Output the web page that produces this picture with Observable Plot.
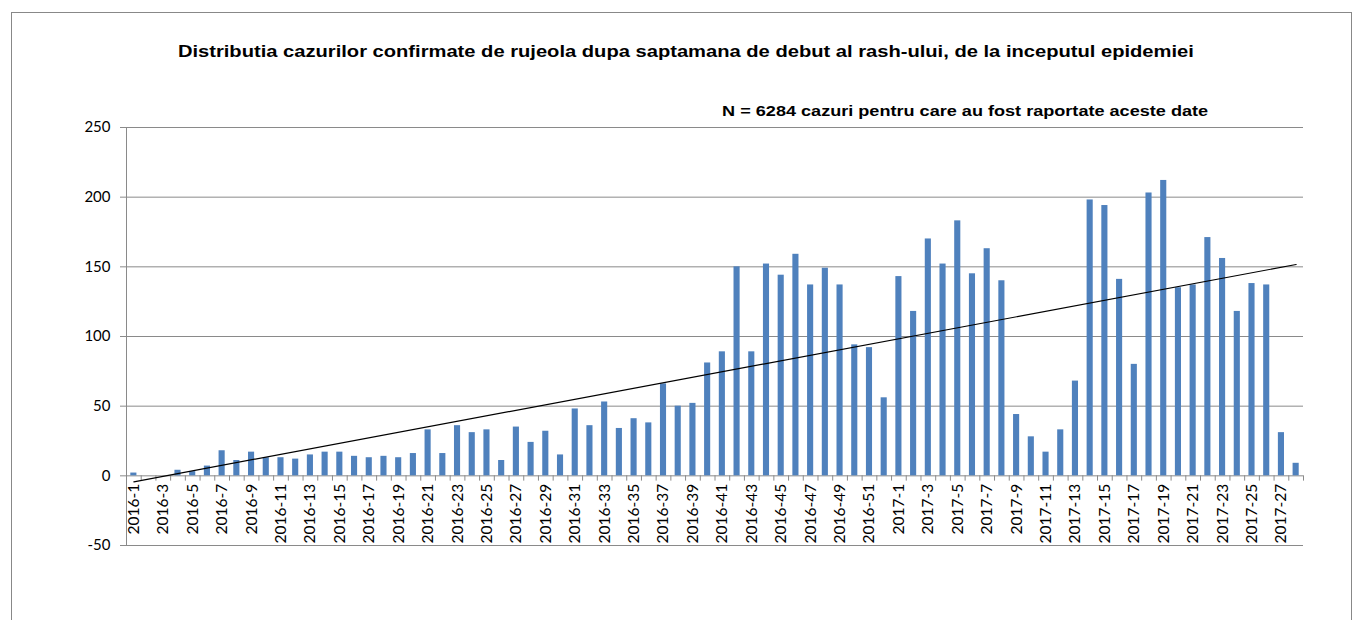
<!DOCTYPE html>
<html>
<head>
<meta charset="utf-8">
<script src="https://cdn.jsdelivr.net/npm/d3@7"></script>
<script src="https://cdn.jsdelivr.net/npm/@observablehq/plot@0.6"></script>
<style>
  html, body { margin: 0; padding: 0; background: #fff; }
  #wrap { position: relative; width: 1355px; height: 620px; overflow: hidden; background: #fff; }
  #border { position: absolute; left: 11px; top: 12px; width: 1341px; height: 700px; border: 1px solid #888; box-sizing: border-box; z-index: 2; }
  .t { position: absolute; font-family: "Liberation Sans", Arial, sans-serif; font-weight: bold; color: #000; white-space: nowrap; z-index: 3; }
  #title { left: 0; width: 1372px; top: 42px; text-align: center; font-size: 17px; line-height: 20px; }
  #title span, #subtitle span { display: inline-block; }
  #subtitle { right: 147px; top: 101.5px; text-align: right; font-size: 15px; line-height: 18px; }
  #chart { position: absolute; left: 0; top: 117px; z-index: 1; }
</style>
</head>
<body>
<div id="wrap">
  <div id="border"></div>
  <div id="title" class="t"><span>Distributia cazurilor confirmate de rujeola dupa saptamana de debut al rash-ului, de la inceputul epidemiei</span></div>
  <div id="subtitle" class="t"><span>N = 6284 cazuri pentru care au fost raportate aceste date</span></div>
  <div id="chart"></div>
</div>
<script>
// Weekly confirmed measles cases by rash-onset week
const weeks2016 = d3.range(1, 53).map(w => `2016-${w}`);
const weeks2017 = d3.range(1, 29).map(w => `2017-${w}`);
const weeks = [...weeks2016, ...weeks2017];

const cases2016 = [2,0,0,4,3,7,18,11,17,13,13,12,15,17,17,14,13,14,13,16,
                   33,16,36,31,33,11,35,24,32,15,48,36,53,34,41,38,66,50,52,81,
                   89,150,89,152,144,159,137,149,137,94,92,56];
const cases2017 = [143,118,170,152,183,145,163,140,44,28,17,33,68,198,194,141,
                   80,203,212,135,137,171,156,118,138,137,31,9];
const cases = [...cases2016, ...cases2017];

const yTicks = [-50, 0, 50, 100, 150, 200, 250];
const tickLabels = weeks.filter((d, i) => i % 2 === 0);

const data = weeks.map((w, i) => ({week: w, idx: i, value: cases[i]}));

// linear trend (least squares over week index)
const mx = d3.mean(data, d => d.idx), my = d3.mean(data, d => d.value);
const slope = d3.sum(data, d => (d.idx - mx) * (d.value - my)) / d3.sum(data, d => (d.idx - mx) ** 2);
const icpt = my - slope * mx;
const trend = [data[0], data[data.length - 1]].map(d => ({week: d.week, value: icpt + slope * d.idx}));

const W = 1355, H = 503, mL = 126, mR = 52, mT = 10, mB = 75;
const bw = (W - mL - mR) / weeks.length;

const chart = Plot.plot({
  width: W, height: H,
  marginLeft: mL, marginRight: mR, marginTop: mT, marginBottom: mB,
  style: {fontFamily: "Lato, 'Open Sans', sans-serif", fontSize: "14px", color: "#000", background: "transparent"},
  x: {type: "band", domain: weeks, padding: 0, axis: null},
  y: {domain: [-50, 250], ticks: yTicks},
  marks: [
    Plot.gridY(yTicks, {stroke: "#8a8a8a", strokeOpacity: 1}),
    Plot.axisY(yTicks, {tickSize: 6, tickPadding: 10, stroke: "#8a8a8a", fontSize: 15, label: null, tickFormat: d => d}),
    Plot.ruleX([weeks[0]], {x: d => d, y1: -50, y2: 250, dx: -bw / 2, stroke: "#8a8a8a"}),
    Plot.barY(data, {x: "week", y: "value", fill: "#4F81BD", insetLeft: 4.3, insetRight: 4.3}),
    Plot.ruleX(weeks, {x: d => d, y1: 0, y2: -3.8, dx: -bw / 2, stroke: "#8a8a8a"}),
    Plot.ruleX([weeks[weeks.length - 1]], {x: d => d, y1: 0, y2: -3.8, dx: bw / 2, stroke: "#8a8a8a"}),
    Plot.line(trend, {x: "week", y: "value", stroke: "#000", strokeWidth: 1.2}),
    Plot.text(tickLabels, {x: d => d, y: 0, text: d => d, rotate: -90, textAnchor: "end", lineAnchor: "middle", dy: 8, fontSize: 15.5, fill: "#000"})
  ]
});
document.getElementById("chart").appendChild(chart);

// stretch title texts horizontally to the reference widths
function fit(sel, target, origin) {
  const s = document.querySelector(sel);
  const w = s.getBoundingClientRect().width;
  s.style.transformOrigin = origin;
  s.style.transform = `scaleX(${target / w})`;
}
fit("#title span", 1016, "center");
fit("#subtitle span", 486, "right");
</script>
</body>
</html>
